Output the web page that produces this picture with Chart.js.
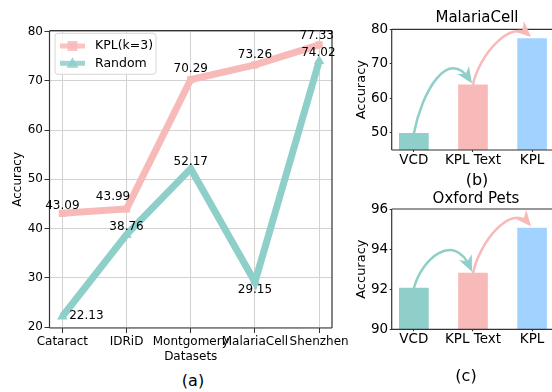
<!DOCTYPE html>
<html>
<head>
<meta charset="utf-8">
<script src="https://cdn.jsdelivr.net/npm/chart.js@4.4.0/dist/chart.umd.min.js"></script>
<style>
  body { margin: 0; width: 552px; height: 392px; overflow: hidden; background: #fff; position: relative; font-family: "DejaVu Sans", sans-serif; }
  .pane { position: absolute; }
  .txt { position: absolute; transform: translate(-50%, -50%); white-space: nowrap; color: #000; }
</style>
</head>
<body>
<div class="pane" style="left:0;top:0;width:356px;height:364px"><canvas id="lineChart"></canvas></div>
<div class="pane" style="left:340px;top:0;width:212px;height:170px"><canvas id="malariaChart"></canvas></div>
<div class="pane" style="left:340px;top:185px;width:212px;height:170px"><canvas id="petsChart"></canvas></div>
<div class="txt" style="left:193px;top:380px;font-size:16px">(a)</div>
<div class="txt" style="left:477px;top:16.5px;font-size:15px">MalariaCell</div>
<div class="txt" style="left:477px;top:179px;font-size:16px">(b)</div>
<div class="txt" style="left:476px;top:197.5px;font-size:15px">Oxford Pets</div>
<div class="txt" style="left:466px;top:375px;font-size:16px">(c)</div>
<script>
// données du graphique (a)
const datasetNames = ['Cataract', 'IDRiD', 'Montgomery', 'MalariaCell', 'Shenzhen'];
const kplAcc = [43.09, 43.99, 70.29, 73.26, 77.33];
const randomAcc = [22.13, 38.76, 52.17, 29.15, 74.02];
const lineTicks = [20, 30, 40, 50, 60, 70, 80];

// données des graphiques (b) et (c)
const methods = ['VCD', 'KPL Text', 'KPL'];
const malariaAcc = [49.8, 63.9, 77.33];
const malariaTicks = [50, 60, 70, 80];
const petsAcc = [92.05, 92.8, 95.05];
const petsTicks = [90, 92, 94, 96];

const teal = '#8ECFC9';
const pink = '#F8BAB8';
const blue = '#A2D2FF';

Chart.defaults.font.family = '"DejaVu Sans", sans-serif';
Chart.defaults.color = '#000';

// cadre autour de la zone de tracé
const frame = {
  id: 'frame',
  afterDatasetsDraw(chart, args, opts) {
    const { left, right, top, bottom } = chart.chartArea;
    const ctx = chart.ctx;
    const sides = opts.sides || 'tlbr';
    ctx.save();
    ctx.strokeStyle = '#333';
    ctx.lineWidth = 1.2;
    ctx.beginPath();
    if (sides.includes('t')) { ctx.moveTo(left, top); ctx.lineTo(right, top); }
    if (sides.includes('b')) { ctx.moveTo(left, bottom); ctx.lineTo(right, bottom); }
    if (sides.includes('l')) { ctx.moveTo(left, top); ctx.lineTo(left, bottom); }
    if (sides.includes('r')) { ctx.moveTo(right, top); ctx.lineTo(right, bottom); }
    ctx.stroke();
    ctx.restore();
  }
};

// valeurs écrites à côté des points
const valueLabels = {
  id: 'valueLabels',
  afterDatasetsDraw(chart, args, opts) {
    const ctx = chart.ctx;
    ctx.save();
    ctx.font = '12px "DejaVu Sans"';
    ctx.fillStyle = '#000';
    ctx.textAlign = 'center';
    ctx.textBaseline = 'middle';
    chart.data.datasets.forEach((ds, di) => {
      const meta = chart.getDatasetMeta(di);
      meta.data.forEach((pt, i) => {
        const off = opts.offsets[di][i];
        ctx.fillText(ds.data[i].y.toFixed(2), pt.x + off[0], pt.y + off[1]);
      });
    });
    ctx.restore();
  }
};

// légende dans un cadre en haut à gauche
const boxLegend = {
  id: 'boxLegend',
  afterDraw(chart) {
    const ctx = chart.ctx;
    const a = chart.chartArea;
    const x = a.left + 5.5, y = a.top + 2.6, w = 101, h = 41;
    ctx.save();
    ctx.fillStyle = 'rgba(255,255,255,0.8)';
    ctx.strokeStyle = '#d6d6d6';
    ctx.lineWidth = 1;
    ctx.beginPath();
    ctx.roundRect(x, y, w, h, 3);
    ctx.fill();
    ctx.stroke();
    chart.data.datasets.forEach((ds, i) => {
      const cy = y + 12.7 + i * 17.3;
      ctx.globalAlpha = 0.85;
      ctx.strokeStyle = ds.borderColor;
      ctx.fillStyle = ds.borderColor;
      ctx.lineWidth = 5;
      ctx.beginPath();
      ctx.moveTo(x + 5, cy);
      ctx.lineTo(x + 30, cy);
      ctx.stroke();
      const mx = x + 17.5;
      ctx.beginPath();
      if (ds.pointStyle === 'rect') {
        ctx.rect(mx - 5, cy - 5, 10, 10);
      } else {
        ctx.moveTo(mx, cy - 6);
        ctx.lineTo(mx + 6, cy + 4.5);
        ctx.lineTo(mx - 6, cy + 4.5);
        ctx.closePath();
      }
      ctx.fill();
      ctx.globalAlpha = 1;
      ctx.fillStyle = '#000';
      ctx.font = '12.5px "DejaVu Sans"';
      ctx.textAlign = 'left';
      ctx.textBaseline = 'middle';
      ctx.fillText(ds.label, x + 40, cy);
    });
    ctx.restore();
  }
};

// flèches courbes d'une barre à la suivante
const stepArrows = {
  id: 'stepArrows',
  afterDatasetsDraw(chart, args, opts) {
    const ctx = chart.ctx;
    const meta = chart.getDatasetMeta(0);
    const colors = chart.data.datasets[0].backgroundColor;
    opts.curves.forEach((c, i) => {
      const a = meta.data[i], b = meta.data[i + 1];
      const x0 = a.x, y0 = a.y, x3 = b.x - 1, y3 = b.y - 1.5;
      const c1x = x0 + c[0], c1y = y0 + c[1];
      const c2x = x3 + c[2], c2y = y3 + c[3];
      ctx.save();
      ctx.strokeStyle = colors[i];
      ctx.fillStyle = colors[i];
      ctx.lineWidth = 2.5;
      ctx.beginPath();
      ctx.moveTo(x0, y0);
      ctx.bezierCurveTo(c1x, c1y, c2x, c2y, x3 - (x3 - c2x) * 0.12, y3 - (y3 - c2y) * 0.12);
      ctx.stroke();
      let dx = x3 - c2x, dy = y3 - c2y;
      const len = Math.hypot(dx, dy);
      dx /= len; dy /= len;
      const L = 16, W = 7;
      const bx = x3 - dx * L, by = y3 - dy * L;
      ctx.beginPath();
      ctx.moveTo(x3, y3);
      ctx.lineTo(bx - dy * W, by + dx * W);
      ctx.lineTo(x3 - dx * L * 0.7, y3 - dy * L * 0.7);
      ctx.lineTo(bx + dy * W, by - dx * W);
      ctx.closePath();
      ctx.fill();
      ctx.restore();
    });
  }
};

new Chart(document.getElementById('lineChart'), {
  type: 'line',
  data: {
    datasets: [
      {
        label: 'KPL(k=3)',
        data: kplAcc.map((v, i) => ({ x: i, y: v })),
        borderColor: pink,
        backgroundColor: pink,
        pointBackgroundColor: pink,
        borderWidth: 7,
        pointStyle: 'rect',
        pointRadius: 5,
        pointBorderWidth: 0,
        tension: 0,
        order: 1
      },
      {
        label: 'Random',
        data: randomAcc.map((v, i) => ({ x: i, y: v })),
        borderColor: teal,
        backgroundColor: teal,
        pointBackgroundColor: teal,
        borderWidth: 7,
        pointStyle: 'triangle',
        pointRadius: 6,
        pointBorderWidth: 0,
        tension: 0,
        order: 0
      }
    ]
  },
  options: {
    responsive: true,
    maintainAspectRatio: false,
    animation: false,
    layout: { padding: { top: 30.7, right: 24, bottom: 0, left: 0 } },
    plugins: {
      legend: { display: false },
      tooltip: { enabled: false },
      frame: { sides: 'tlbr' },
      valueLabels: {
        offsets: [
          [[0, -7.7], [-13.5, -11.7], [0, -10.3], [0, -10], [-2.4, -9]],
          [[24, -0.8], [0, -7.4], [0, -7], [0, 8], [-0.8, -7.9]]
        ]
      }
    },
    scales: {
      x: {
        type: 'linear',
        min: -0.2,
        max: 4.2,
        afterBuildTicks: s => { s.ticks = datasetNames.map((_, i) => ({ value: i })); },
        afterFit: s => { s.height = 36; },
        grid: { color: '#d2d2d2', lineWidth: 1, tickLength: 5, tickColor: '#333' },
        border: { display: false },
        ticks: { callback: v => datasetNames[v], font: { size: 12 }, padding: 2, maxRotation: 0, autoSkip: false },
        title: { display: true, text: 'Datasets', font: { size: 12 }, padding: { top: 0, bottom: 0 } }
      },
      y: {
        min: 19.8,
        max: 80.2,
        afterBuildTicks: s => { s.ticks = lineTicks.map(v => ({ value: v })); },
        afterFit: s => { s.width = 49.5; },
        grid: { color: '#d2d2d2', lineWidth: 1, tickLength: 5, tickColor: '#333' },
        border: { display: false },
        ticks: { font: { size: 12 }, padding: 1.5 },
        title: { display: true, text: 'Accuracy', font: { size: 12 }, padding: { top: 10.3, bottom: 0 } }
      }
    }
  },
  plugins: [frame, valueLabels, boxLegend]
});

function barChart(id, values, yTicks, yMin, yMax, topPad, xHeight, curves) {
  return new Chart(document.getElementById(id), {
    type: 'bar',
    data: {
      datasets: [{
        data: values.map((v, i) => ({ x: i, y: v })),
        backgroundColor: [teal, pink, blue],
        barThickness: 29
      }]
    },
    options: {
      responsive: true,
      maintainAspectRatio: false,
      animation: false,
      layout: { padding: { top: topPad, right: 0, bottom: 0, left: 0 } },
      plugins: {
        legend: { display: false },
        tooltip: { enabled: false },
        frame: { sides: 'tlb' },
        stepArrows: { curves: curves }
      },
      scales: {
        x: {
          type: 'linear',
          offset: false,
          min: -0.375,
          max: 2.337,
          afterBuildTicks: s => { s.ticks = methods.map((_, i) => ({ value: i })); },
          afterFit: s => { s.height = xHeight; },
          grid: { offset: false, drawOnChartArea: false, tickLength: 2, tickColor: '#333' },
          border: { display: false },
          ticks: { callback: v => methods[v], font: { size: 13.5 }, padding: 0, maxRotation: 0, autoSkip: false }
        },
        y: {
          min: yMin,
          max: yMax,
          afterBuildTicks: s => { s.ticks = yTicks.map(v => ({ value: v })); },
          afterFit: s => { s.width = 51.7; },
          grid: { drawOnChartArea: false, tickLength: 2, tickColor: '#333' },
          border: { display: false },
          ticks: { font: { size: 13.5 }, padding: 1.5 },
          title: { display: true, text: 'Accuracy', font: { size: 13 }, padding: { top: 13.9, bottom: 0 } }
        }
      }
    },
    plugins: [frame, stepArrows]
  });
}

barChart('malariaChart', malariaAcc, malariaTicks, 45, 80, 29.3, 20,
  [[8, -42, -24, -36], [6, -30, -20, -18]]);
barChart('petsChart', petsAcc, petsTicks, 90, 96, 24, 25.7,
  [[8, -30, -18, -40], [6, -30, -20, -24]]);
</script>
</body>
</html>
